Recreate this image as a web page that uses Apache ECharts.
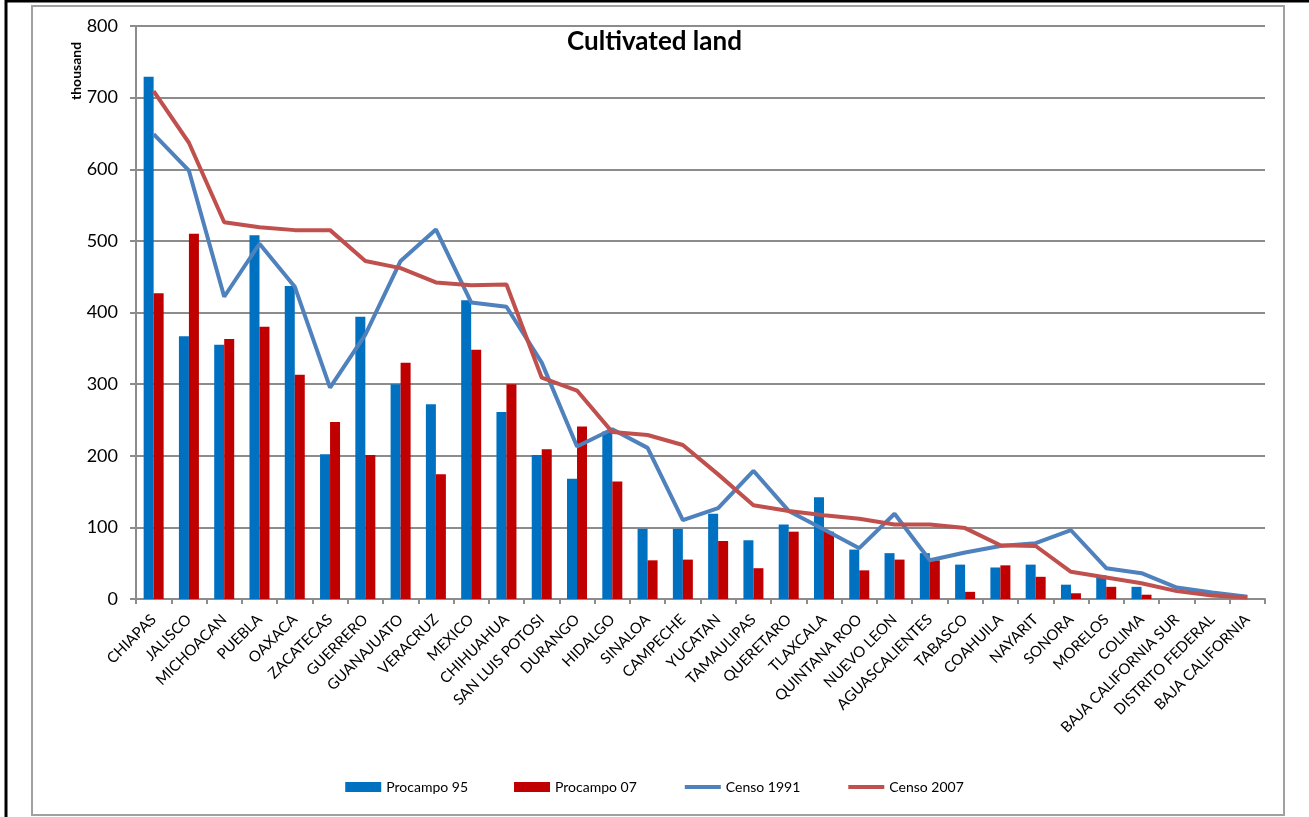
<!DOCTYPE html>
<html>
<head>
<meta charset="utf-8">
<script src="https://cdn.jsdelivr.net/npm/echarts@6/dist/echarts.min.js"></script>
<style>
  html, body { margin: 0; padding: 0; background: #fff; }
  #chart { width: 1309px; height: 817px; }
</style>
</head>
<body>
<div id="chart"></div>
<script>
const states = [
  'CHIAPAS', 'JALISCO', 'MICHOACAN', 'PUEBLA', 'OAXACA', 'ZACATECAS', 'GUERRERO', 'GUANAJUATO',
  'VERACRUZ', 'MEXICO', 'CHIHUAHUA', 'SAN LUIS POTOSI', 'DURANGO', 'HIDALGO', 'SINALOA', 'CAMPECHE',
  'YUCATAN', 'TAMAULIPAS', 'QUERETARO', 'TLAXCALA', 'QUINTANA ROO', 'NUEVO LEON', 'AGUASCALIENTES', 'TABASCO',
  'COAHUILA', 'NAYARIT', 'SONORA', 'MORELOS', 'COLIMA', 'BAJA CALIFORNIA SUR', 'DISTRITO FEDERAL', 'BAJA CALIFORNIA'
];
const procampo95 = [729, 367, 355, 508, 437, 202, 394, 300, 272, 417, 261, 201, 168, 234, 98, 98,
  119, 82, 104, 142, 69, 64, 64, 48, 44, 48, 20, 33, 17, 0, 0, 0];
const procampo07 = [427, 510, 363, 380, 313, 247, 201, 330, 174, 348, 300, 209, 241, 164, 54, 55,
  81, 43, 94, 94, 40, 55, 54, 10, 47, 31, 8, 17, 6, 0, 0, 0];
const censo1991 = [649, 598, 422, 496, 436, 295, 369, 472, 516, 414, 408, 330, 213, 237, 211, 110,
  127, 179, 123, 97, 71, 119, 54, 65, 74, 78, 96, 43, 36, 16, 9, 3];
const censo2007 = [709, 637, 526, 519, 515, 515, 472, 462, 442, 438, 439, 309, 291, 233, 229, 215,
  174, 131, 123, 117, 112, 104, 104, 99, 75, 74, 38, 30, 22, 11, 5, 2];

const font = 'Lato, "Open Sans", sans-serif';
const gray = '#8c8c8c';

const chart = echarts.init(document.getElementById('chart'));

chart.setOption({
  animation: false,
  textStyle: { fontFamily: font },
  title: {
    text: 'Cultivated land',
    left: 'center',
    top: 24,
    textStyle: { fontSize: 26, fontWeight: 'bold', color: '#000', fontFamily: font }
  },
  graphic: [
    // frame lines
    { type: 'rect', shape: { x: 32, y: 6, width: 1252, height: 809 },
      style: { fill: 'none', stroke: '#a0a0a0', lineWidth: 2 }, silent: true },
    { type: 'line', shape: { x1: 5, y1: 1, x2: 1309, y2: 1 },
      style: { stroke: '#000', lineWidth: 3 }, silent: true },
    { type: 'line', shape: { x1: 6, y1: 0, x2: 6, y2: 817 },
      style: { stroke: '#000', lineWidth: 3 }, silent: true },
    // axis unit, reads bottom to top
    { type: 'text', x: 76, y: 100, rotation: Math.PI / 2, silent: true,
      style: { text: 'thousand', fontSize: 14, fontWeight: 'bold', fill: '#000',
               fontFamily: font, align: 'left', verticalAlign: 'middle' } }
  ],
  legend: {
    bottom: 18,
    left: 'center',
    itemWidth: 36,
    itemHeight: 10,
    itemGap: 46,
    textStyle: { fontSize: 14, color: '#000', fontFamily: font },
    data: [
      { name: 'Procampo 95', icon: 'rect' },
      { name: 'Procampo 07', icon: 'rect' },
      { name: 'Censo 1991', itemStyle: { opacity: 0 }, lineStyle: { width: 4 } },
      { name: 'Censo 2007', itemStyle: { opacity: 0 }, lineStyle: { width: 4 } }
    ]
  },
  grid: { left: 136, right: 44, top: 26, bottom: 218 },
  xAxis: {
    type: 'category',
    data: states,
    axisLine: { lineStyle: { color: gray, width: 2 } },
    axisTick: { show: true, length: 5, lineStyle: { color: gray, width: 2 } },
    axisLabel: { interval: 0, rotate: 45, fontSize: 15, color: '#000', margin: 18, fontFamily: font }
  },
  yAxis: {
    type: 'value',
    min: 0,
    max: 800,
    interval: 100,
    axisLine: { show: true, lineStyle: { color: gray, width: 2 } },
    axisTick: { show: true, length: 6, lineStyle: { color: gray, width: 2 } },
    axisLabel: { fontSize: 18, color: '#000', margin: 18, fontFamily: font },
    splitLine: { lineStyle: { color: gray, width: 2 } }
  },
  series: [
    { name: 'Procampo 95', type: 'bar', data: procampo95, barWidth: 10, barGap: '0%',
      itemStyle: { color: '#0070C0' } },
    { name: 'Procampo 07', type: 'bar', data: procampo07, barWidth: 10, barGap: '0%',
      itemStyle: { color: '#C00000' } },
    { name: 'Censo 1991', type: 'line', data: censo1991, showSymbol: false, z: 3,
      lineStyle: { color: '#4F81BD', width: 4 }, itemStyle: { color: '#4F81BD' } },
    { name: 'Censo 2007', type: 'line', data: censo2007, showSymbol: false, z: 4,
      lineStyle: { color: '#C0504D', width: 4 }, itemStyle: { color: '#C0504D' } }
  ]
});
</script>
</body>
</html>
